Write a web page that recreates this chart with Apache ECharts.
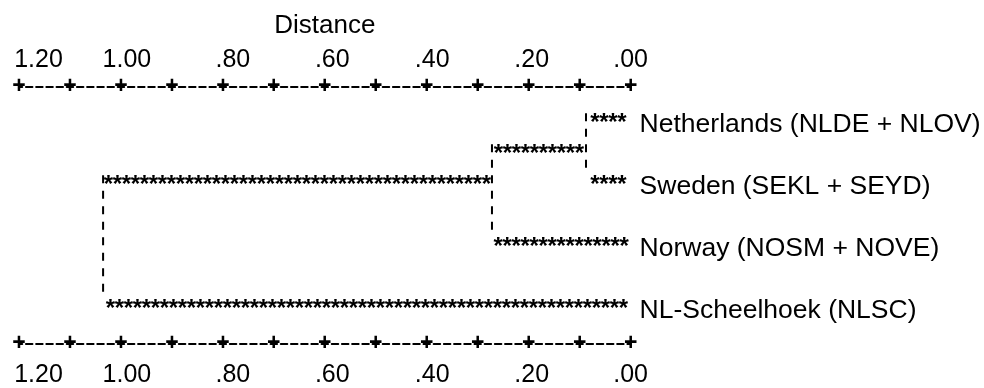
<!DOCTYPE html>
<html><head><meta charset="utf-8">
<script src="https://cdn.jsdelivr.net/npm/echarts@6/dist/echarts.min.js"></script>
<style>html,body{margin:0;padding:0;background:#fff}#c{width:984px;height:388px}</style>
</head><body><div id="c"></div>
<script>
// ---- data ----
const leafLabels = ['Netherlands (NLDE + NLOV)', 'Sweden (SEKL + SEYD)', 'Norway (NOSM + NOVE)', 'NL-Scheelhoek (NLSC)'];
const leafRows = [0, 2, 4, 6];
const mergeLeft = [0, 4, 5];
const mergeRight = [1, 2, 3];
const mergeDistance = [0.0875, 0.272, 1.035];
const mergeRows = [1, 2, 4];
const tickValues = [1.2, 1.0, 0.8, 0.6, 0.4, 0.2, 0.0];
const tickLabels = ['1.20', '1.00', '.80', '.60', '.40', '.20', '.00'];
const axisTitle = 'Distance';

// ---- styles ----
const FONT = '"Liberation Sans", Arial, sans-serif';
const INK = '#000';
const STAR_SIZE = 24;
const STAR_FONT = 'bold ' + STAR_SIZE + 'px "Liberation Sans", Arial, sans-serif';
const STAR_STEP = 9;
const STAR_DY = 0.24 * STAR_SIZE;
const labelShift = [19.5, 6, 10, 7.5, 5.5, 3, 0];
const GRID = {left: 19, top: 87, width: 611.6, height: 257};

// ---- build dendrogram segments from merges ----
const nodeHeight = leafRows.map(() => 0);
const nodeRow = leafRows.slice();
const hSegs = [], vSegs = [];
mergeDistance.forEach((d, i) => {
  const a = mergeLeft[i], b = mergeRight[i];
  vSegs.push([d, nodeRow[a], nodeRow[b]]);
  hSegs.push([nodeHeight[a], d, nodeRow[a]]);
  hSegs.push([nodeHeight[b], d, nodeRow[b]]);
  nodeHeight.push(d);
  nodeRow.push(mergeRows[i]);
});
const leafData = leafRows.map((r) => [0, r]);

const rich = {};
labelShift.forEach((s, i) => { rich['s' + i] = {padding: [0, 0, 0, 2 * s], fontSize: 25, fontFamily: FONT, color: INK}; });
function numFormatter(v) {
  const k = tickValues.findIndex((t) => Math.abs(t - v) < 1e-6);
  return k < 0 ? '' : '{s' + k + '|' + tickLabels[k] + '}';
}
const cycle = GRID.width / 60;
const dashLine = {show: true, onZero: false, lineStyle: {color: INK, width: 2, type: [6.5, cycle - 6.5], dashOffset: 3.25}};

function numberAxis(pos, margin) {
  return {
    type: 'value', position: pos, min: 0, max: 1.2, interval: 0.1, inverse: true,
    axisLine: dashLine, axisTick: {show: false}, splitLine: {show: false},
    axisLabel: {show: true, margin: margin, verticalAlign: 'middle', formatter: numFormatter, rich: rich,
      showMinLabel: true, showMaxLabel: true, hideOverlap: false, fontSize: 25, fontFamily: FONT, color: INK},
    name: pos === 'top' ? axisTitle : '', nameLocation: 'middle', nameGap: 61,
    nameTextStyle: {fontSize: 26, fontFamily: FONT, color: INK, verticalAlign: 'middle'}
  };
}
function plusAxis(pos) {
  return {
    type: 'value', position: pos, min: 0, max: 1.2, interval: 0.1, inverse: true,
    axisLine: {show: false, onZero: false}, axisTick: {show: false}, splitLine: {show: false},
    axisLabel: {show: true, margin: 0, verticalAlign: 'middle', formatter: () => '+',
      showMinLabel: true, showMaxLabel: true, fontSize: 23, fontWeight: 'bold', fontFamily: FONT, color: INK}
  };
}

const chart = echarts.init(document.getElementById('c'), null, {renderer: 'canvas'});
chart.setOption({
  animation: false,
  backgroundColor: '#fff',
  grid: GRID,
  xAxis: [numberAxis('top', 27), plusAxis('top'), numberAxis('bottom', 31), plusAxis('bottom')],
  yAxis: {type: 'value', min: -1, max: 7.3, inverse: true, show: false},
  series: [
    {
      type: 'custom', name: 'horizontal', coordinateSystem: 'cartesian2d', xAxisIndex: 0, yAxisIndex: 0,
      clip: false, data: hSegs, encode: {x: [0, 1], y: 2},
      renderItem: (params, api) => {
        const a = api.coord([api.value(0), api.value(2)]);
        const b = api.coord([api.value(1), api.value(2)]);
        const l = Math.min(a[0], b[0]), r = Math.max(a[0], b[0]);
        const n = Math.max(1, Math.floor((r - l) / STAR_STEP));
        const start = (l + r) / 2 - (n - 1) * STAR_STEP / 2;
        const children = [];
        for (let i = 0; i < n; i++) {
          children.push({type: 'text', x: start + i * STAR_STEP, y: a[1] + STAR_DY,
            style: {text: '*', font: STAR_FONT, fill: INK, align: 'center', verticalAlign: 'middle'}});
        }
        return {type: 'group', children: children};
      }
    },
    {
      type: 'custom', name: 'vertical', coordinateSystem: 'cartesian2d', xAxisIndex: 0, yAxisIndex: 0,
      clip: false, data: vSegs, encode: {x: 0, y: [1, 2]},
      renderItem: (params, api) => {
        const a = api.coord([api.value(0), api.value(1) - 0.15]);
        const b = api.coord([api.value(0), api.value(2) - 0.35]);
        return {type: 'line', shape: {x1: a[0], y1: a[1], x2: b[0], y2: b[1]},
          style: {stroke: INK, lineWidth: 2, lineDash: [8, 7.5]}};
      }
    },
    {
      type: 'custom', name: 'leaves', coordinateSystem: 'cartesian2d', xAxisIndex: 0, yAxisIndex: 0,
      clip: false, data: leafData, encode: {x: 0, y: 1},
      renderItem: (params, api) => {
        const p = api.coord([api.value(0), api.value(1)]);
        return {type: 'text', x: p[0] + 9, y: p[1] + 7,
          style: {text: leafLabels[params.dataIndex], fontSize: 26.5, fontFamily: FONT, fill: INK, align: 'left', verticalAlign: 'middle'}};
      }
    }
  ]
});
</script></body></html>
